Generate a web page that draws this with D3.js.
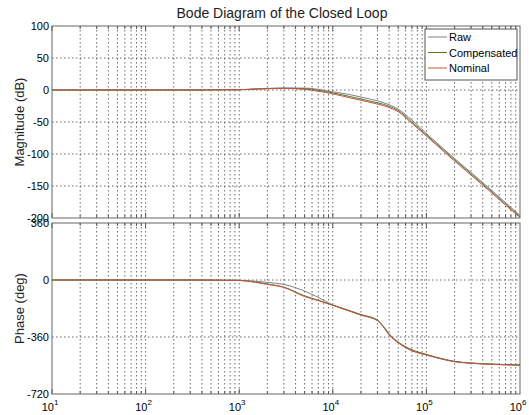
<!DOCTYPE html>
<html>
<head>
<meta charset="utf-8">
<script src="https://cdn.jsdelivr.net/npm/d3@7"></script>
<style>
  body { margin: 0; background: #fff; }
  text { font-family: "Liberation Sans", Arial, sans-serif; }
</style>
</head>
<body>
<div id="chart"></div>
<script>
// frequencies (Hz)
const freqs = [10, 100, 300, 1000, 1500, 2000, 3000, 5000, 7000, 10000, 15000, 20000, 30000, 35000, 40000, 50000, 70000, 100000, 150000, 200000, 300000, 500000, 700000, 1000000];

// magnitude (dB)
const magRaw = [0, 0, 0, 0.5, 1.5, 2.5, 3, 3, 1, -3, -7, -11, -17, -20, -23, -30, -47, -68, -91, -107, -129, -157, -176, -196];
const magComp = [0, 0, 0, 0.5, 1.5, 2.2, 2.8, 2, -0.5, -4.5, -10, -14, -20, -22.5, -25.5, -32, -50, -70, -93, -109, -131, -159, -178, -198];
const magNom = [0, 0, 0, 0.5, 1.5, 2, 2.5, 1, -2, -6, -12, -16, -22, -24.5, -27.5, -34, -52, -72, -95, -111, -133, -161, -180, -199];

// phase (deg)
const phRaw = [0, 0, 0, -2, -8, -15, -28, -70, -110, -158, -195, -220, -255, -298, -345, -395, -445, -472, -500, -515, -525, -532, -535, -537];
const phComp = [0, 0, 0, -3, -13, -25, -45, -100, -128, -158, -193, -218, -253, -295, -340, -392, -440, -470, -498, -514, -524, -531, -534, -536];
const phNom = [0, 0, 0, -3, -15, -28, -47, -105, -130, -160, -196, -222, -257, -300, -347, -397, -447, -474, -501, -516, -526, -533, -536, -538];

const magTicks = [100, 50, 0, -50, -100, -150, -200];
const phTicks = [360, 0, -360, -720];
const decades = [1, 2, 3, 4, 5, 6];

const seriesNames = ["Raw", "Compensated", "Nominal"];
const colors = ["#7d7d8f", "#4f7a2a", "#c9533f"];

const width = 529, height = 415;
const left = 52, right = 520;

const svg = d3.select("#chart")
    .append("svg")
    .attr("width", width)
    .attr("height", height);

// x 축 (로그)
const x = d3.scaleLog()
    .domain([10, 1e6])
    .range([left, right]);

const yMag = d3.scaleLinear().domain([-200, 100]).range([218, 26]);
const yPh = d3.scaleLinear().domain([-720, 360]).range([394, 223]);

// minor + major grid values
const gridX = [];
decades.slice(0, 5).forEach(d => {
    for (let k = 1; k <= 9; k++) gridX.push(k * Math.pow(10, d));
});

function panel(y, ticks, series, label) {
    const [y0, y1] = y.range();
    const g = svg.append("g");

    g.append("rect")
        .attr("x", left).attr("y", y1)
        .attr("width", right - left).attr("height", y0 - y1)
        .attr("fill", "#fff");

    // vertical grid
    g.selectAll(".vg")
        .data(gridX.filter(v => v > 10))
        .enter().append("line")
        .attr("x1", d => x(d)).attr("x2", d => x(d))
        .attr("y1", y1).attr("y2", y0)
        .attr("stroke", "#444")
        .attr("stroke-width", 0.8)
        .attr("stroke-dasharray", "1.5,2.5");

    // horizontal grid
    g.selectAll(".hg")
        .data(ticks.slice(1, -1))
        .enter().append("line")
        .attr("x1", left).attr("x2", right)
        .attr("y1", d => y(d)).attr("y2", d => y(d))
        .attr("stroke", "#444")
        .attr("stroke-width", 0.8)
        .attr("stroke-dasharray", "1.5,2.5");

    // ticks on top and bottom edges
    g.selectAll(".tk")
        .data(gridX)
        .enter().append("line")
        .attr("x1", d => x(d)).attr("x2", d => x(d))
        .attr("y1", y0).attr("y2", d => y0 - (Number.isInteger(Math.log10(d)) ? 5 : 3))
        .attr("stroke", "#555");
    g.selectAll(".tk2")
        .data(gridX)
        .enter().append("line")
        .attr("x1", d => x(d)).attr("x2", d => x(d))
        .attr("y1", y1).attr("y2", d => y1 + (Number.isInteger(Math.log10(d)) ? 5 : 3))
        .attr("stroke", "#555");

    // y tick labels
    g.selectAll(".yl")
        .data(ticks)
        .enter().append("text")
        .attr("x", left - 3)
        .attr("y", d => y(d) + 4)
        .attr("text-anchor", "end")
        .attr("font-size", 11)
        .text(d => d);

    // curves
    const line = d3.line()
        .x((d, i) => x(freqs[i]))
        .y(d => y(d))
        .curve(d3.curveMonotoneX);

    series.forEach((s, i) => {
        g.append("path")
            .datum(s)
            .attr("fill", "none")
            .attr("stroke", colors[i])
            .attr("stroke-width", 1)
            .attr("d", line);
    });

    // frame
    g.append("rect")
        .attr("x", left).attr("y", y1)
        .attr("width", right - left).attr("height", y0 - y1)
        .attr("fill", "none")
        .attr("stroke", "#666");

    svg.append("text")
        .attr("transform", `translate(24,${(y0 + y1) / 2}) rotate(-90)`)
        .attr("text-anchor", "middle")
        .attr("font-size", 13)
        .attr("fill", "#222")
        .text(label);
}

panel(yMag, magTicks, [magRaw, magComp, magNom], "Magnitude (dB)");
panel(yPh, phTicks, [phRaw, phComp, phNom], "Phase (deg)");

// x tick labels 10^n
const xl = svg.selectAll(".xl")
    .data(decades)
    .enter().append("text")
    .attr("x", d => x(Math.pow(10, d)) - 2)
    .attr("y", 411)
    .attr("text-anchor", "middle")
    .attr("font-size", 11);
xl.append("tspan").text("10");
xl.append("tspan").attr("dy", -6).attr("font-size", 8).text(d => d);

// 제목
svg.append("text")
    .attr("x", 282)
    .attr("y", 18)
    .attr("text-anchor", "middle")
    .attr("font-size", 14)
    .attr("fill", "#222")
    .text("Bode Diagram of the Closed Loop");

// 범례
const lg = svg.append("g");
lg.append("rect")
    .attr("x", 425).attr("y", 29)
    .attr("width", 92).attr("height", 51)
    .attr("fill", "#fff")
    .attr("stroke", "#555");
seriesNames.forEach((n, i) => {
    const yy = 37 + i * 15.5;
    lg.append("line")
        .attr("x1", 428).attr("x2", 447)
        .attr("y1", yy).attr("y2", yy)
        .attr("stroke", colors[i]);
    lg.append("text")
        .attr("x", 449).attr("y", yy + 4)
        .attr("font-size", 11)
        .text(n);
});
</script>
</body>
</html>
